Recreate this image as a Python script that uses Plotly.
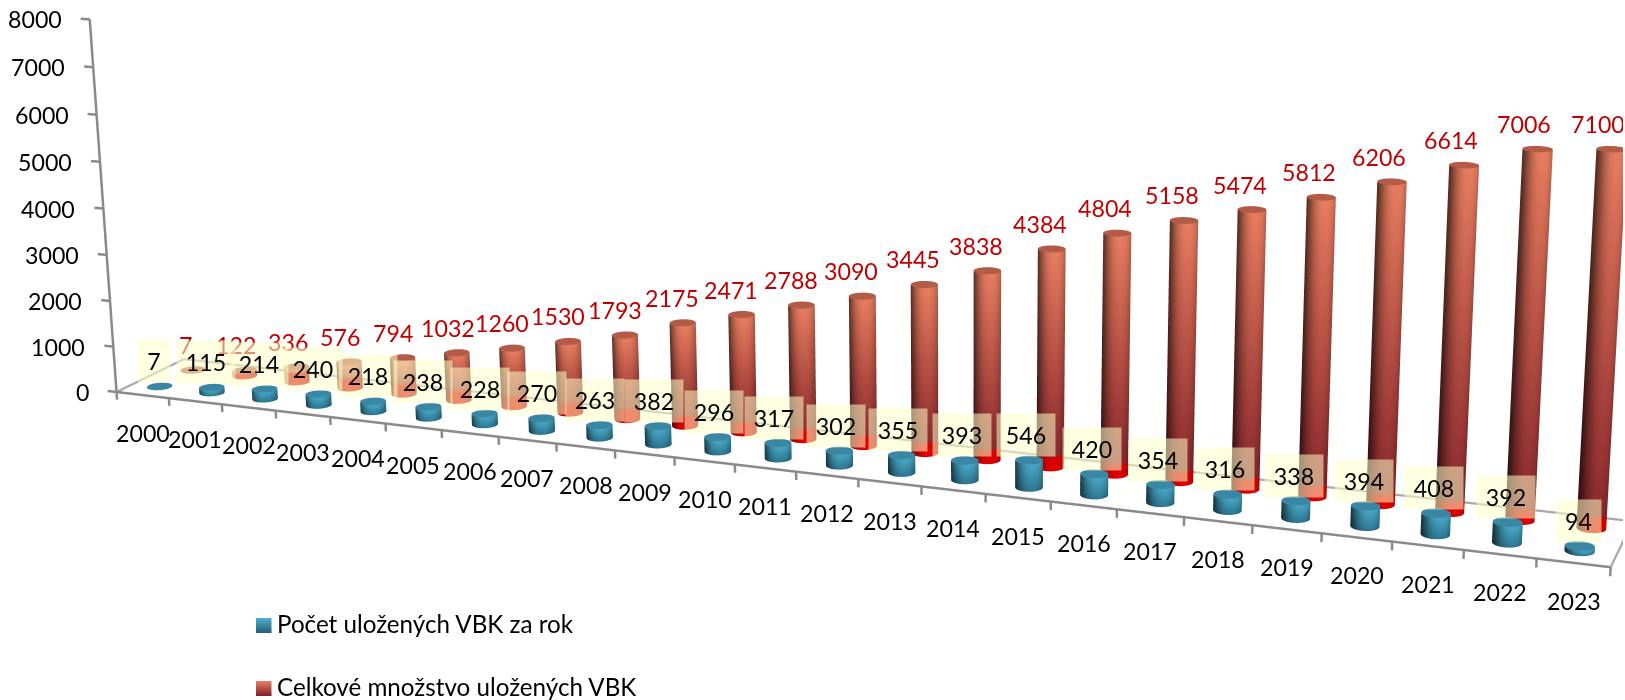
import numpy as np
import plotly.graph_objects as go

years = [str(y) for y in range(2000, 2024)]
per_year = [7,115,214,240,218,238,228,270,263,382,296,317,302,355,393,546,420,354,316,338,394,408,392,94]
total = [7,122,336,576,794,1032,1260,1530,1793,2175,2471,2788,3090,3445,3838,4384,4804,5158,5474,5812,6206,6614,7006,7100]
z_ticks = [0,1000,2000,3000,4000,5000,6000,7000,8000]
name_blue = "Počet uložených VBK za rok"
name_red = "Celkové množstvo uložených VBK"
FONT = "Lato"
DIGIT = 23.2
TEXT = 24.2

YAW, PITCH, ROLL = 0.388961, 0.266854, 0.01276
TX, TY, TZ = -1.36181, -0.19595, 6.35812
KX, KY, KZ = 0.12, 0.240837, 9.25106e-5
FIG_W, FIG_H, TOP_CROP = 1623, 2688, 1052
XR, YR, ZR = (-1.0, 25.0), (-0.3, 1.3), (-400.0, 8400.0)

def rot(v):
    x0, y0, z0 = v
    x = x0*np.cos(YAW) + y0*np.sin(YAW); yr = -x0*np.sin(YAW) + y0*np.cos(YAW)
    yc = z0*np.cos(PITCH) + yr*np.sin(PITCH); zc = yr*np.cos(PITCH) - z0*np.sin(PITCH)
    xc = x*np.cos(ROLL) - yc*np.sin(ROLL); yy = x*np.sin(ROLL) + yc*np.cos(ROLL)
    return np.array([xc, yy, zc])

R = np.array([rot(e) for e in np.eye(3)]).T
right, up, fwd = R[0], R[1], R[2]
eye_p = -R.T @ np.array([TX, TY, TZ])
mid = np.array([KX*sum(XR)/2, KY*sum(YR)/2, KZ*sum(ZR)/2])
eye_n = eye_p - mid
center_n = eye_n + fwd*np.linalg.norm(eye_n)

RX = 0.204
RY = RX*KX/KY

def lerp(c0, c1, t):
    return np.array(c0)*(1-t) + np.array(c1)*t

def blue_col(t):
    return lerp((46,118,144), (72,168,198), t)

def red_col(t, z):
    c = lerp((136,38,44), (232,126,96), t**1.1)
    if z <= 240: return np.array((222,0,0.))
    if z < 330: return lerp((222,0,0), c, (z-240)/90)
    return c

def cylinders(xc, yc, values, colfun, cap, levels_extra):
    xs, ys, zs, cols, I, J, K = [], [], [], [], [], [], []
    n = 56
    th = np.linspace(0, 2*np.pi, n, endpoint=False)
    for x0, v in zip(xc, values):
        base = len(xs)
        lv = sorted(set([0.0, float(v)] + [min(e, v*0.7) for e in levels_extra] + list(np.linspace(0, v, 9))))
        for z in lv:
            for a in th:
                xs.append(x0 + RX*np.cos(a)); ys.append(yc + RY*np.sin(a)); zs.append(z)
                s = np.cos(a)*right[0] + np.sin(a)*right[1]
                s = s/np.hypot(right[0], right[1])
                shade = 1 - 0.42*abs(s-0.18)**2.4
                c = colfun(z/v, z)*shade
                cols.append("rgb(%d,%d,%d)" % tuple(np.clip(c, 0, 255)))
        for r in range(len(lv)-1):
            for a in range(n):
                p = base + r*n + a; q = base + r*n + (a+1) % n
                p2 = p + n; q2 = q + n
                I += [p, p]; J += [q, q2]; K += [q2, p2]
        cbase = len(xs)
        xs.append(x0); ys.append(yc); zs.append(float(v)); cols.append("rgb(%d,%d,%d)" % cap)
        for a in th:
            xs.append(x0 + RX*np.cos(a)); ys.append(yc + RY*np.sin(a)); zs.append(float(v))
            cols.append("rgb(%d,%d,%d)" % cap)
        for a in range(n):
            I.append(cbase); J.append(cbase+1+a); K.append(cbase+1+(a+1) % n)
    return xs, ys, zs, cols, I, J, K

pos = [i + 0.5 for i in range(len(years))]
fig = go.Figure()
LIGHT = dict(ambient=1.0, diffuse=0.0, specular=0.0, roughness=1.0, fresnel=0.0)

xs, ys, zs, cols, I, J, K = cylinders(pos, 0.75, total, red_col, (178,92,72), [240, 330])
fig.add_trace(go.Mesh3d(x=xs, y=ys, z=zs, i=I, j=J, k=K, vertexcolor=cols, lighting=LIGHT, name=name_red, hoverinfo="skip"))
xs, ys, zs, cols, I, J, K = cylinders(pos, 0.25, per_year, lambda t, z: blue_col(t), (58,135,165), [])
fig.add_trace(go.Mesh3d(x=xs, y=ys, z=zs, i=I, j=J, k=K, vertexcolor=cols, lighting=LIGHT, name=name_blue, hoverinfo="skip"))

N = len(years)
lx, ly, lz = [], [], []
def seg(a, b):
    lx.extend([a[0], b[0], None]); ly.extend([a[1], b[1], None]); lz.extend([a[2], b[2], None])
seg((0,0,0), (N,0,0)); seg((0,0,0), (0,0,z_ticks[-1]))
for i in range(N+1):
    seg((i,0,0), (i,0,-170))
for z in z_ticks:
    seg((0,0,z), (-0.17,0,z))
fig.add_trace(go.Scatter3d(x=lx, y=ly, z=lz, mode="lines", line=dict(color="#8a8a8a", width=5), hoverinfo="skip"))
px, py, pz = [], [], []
for a, b in [((0,0,0),(0,1,0)), ((0,1,0),(N,1,0)), ((N,0,0),(N,1,0))]:
    px.extend([a[0], b[0], None]); py.extend([a[1], b[1], None]); pz.extend([a[2], b[2], None])
fig.add_trace(go.Scatter3d(x=px, y=py, z=pz, mode="lines", line=dict(color="#a9a9a9", width=4.5), hoverinfo="skip"))

anns = []
for z in z_ticks:
    anns.append(dict(x=0, y=0, z=z, text=str(z), showarrow=False, xanchor="right", yanchor="middle", xshift=-26,
                     font=dict(family=FONT, size=DIGIT, color="#000")))
for i, y in enumerate(years):
    anns.append(dict(x=pos[i], y=0, z=0, text=y, showarrow=False, xanchor="center", yanchor="middle", yshift=-38,
                     font=dict(family=FONT, size=DIGIT, color="#000")))
for i, v in enumerate(total):
    anns.append(dict(x=pos[i], y=0.75, z=v, text=str(v), showarrow=False, xanchor="center", yanchor="middle",
                     xshift=-(8+0.25*i), yshift=25, font=dict(family=FONT, size=DIGIT, color="#c00000")))
for i, v in enumerate(per_year):
    n = len(str(v))
    anns.append(dict(x=pos[i], y=0.25, z=v, text=str(v), showarrow=False, xanchor="center", yanchor="middle",
                     xshift=-(6-0.2*i), yshift=25, width=13*n+17, height=40, bgcolor="rgba(255,255,200,0.55)",
                     font=dict(family=FONT, size=DIGIT, color="#000")))

def py2p(y):
    return 1 - (TOP_CROP + y)/FIG_H
def px2p(x):
    return x/FIG_W

shapes, notes = [], []
for (yc_, name, top, bot) in [(625.5, name_blue, (78,174,204), (36,96,122)), (688.5, name_red, (226,124,96), (130,36,44))]:
    m = 15
    for s in range(m):
        c = lerp(top, bot, s/(m-1))
        shapes.append(dict(type="rect", xref="paper", yref="paper", line=dict(width=0),
                           x0=px2p(256), x1=px2p(271.5),
                           y0=py2p(yc_-7.5+15*s/m), y1=py2p(yc_-7.5+15*(s+1)/m),
                           fillcolor="rgb(%d,%d,%d)" % tuple(c)))
    notes.append(dict(xref="paper", yref="paper", x=px2p(275), y=py2p(yc_-2), text=name, showarrow=False, xanchor="left",
                      yanchor="middle", font=dict(family=FONT, size=TEXT, color="#000")))

hidden = dict(visible=False, showgrid=False, zeroline=False, showline=False, showticklabels=False, showbackground=False, showspikes=False, title="")
fig.update_layout(
    width=FIG_W, height=FIG_H, margin=dict(l=0, r=0, t=0, b=0, pad=0), showlegend=False,
    paper_bgcolor="white", plot_bgcolor="white", font=dict(family=FONT),
    shapes=shapes, annotations=notes,
    scene=dict(
        domain=dict(x=[0,1], y=[0,1]),
        xaxis=dict(hidden, range=list(XR)), yaxis=dict(hidden, range=list(YR)), zaxis=dict(hidden, range=list(ZR)),
        aspectmode="manual",
        aspectratio=dict(x=KX*(XR[1]-XR[0]), y=KY*(YR[1]-YR[0]), z=KZ*(ZR[1]-ZR[0])),
        camera=dict(eye=dict(x=eye_n[0], y=eye_n[1], z=eye_n[2]),
                    center=dict(x=center_n[0], y=center_n[1], z=center_n[2]),
                    up=dict(x=up[0], y=up[1], z=up[2]),
                    projection=dict(type="perspective")),
        annotations=anns, bgcolor="white",
    ),
)
post = ("var gd=document.getElementById('{plot_id}');"
        "document.documentElement.style.overflow='hidden';"
        "document.body.style.margin='0';document.body.style.overflow='hidden';"
        "gd.style.marginTop='-%dpx';" % TOP_CROP)
fig.write_html("out.html", post_script=post, config=dict(displayModeBar=False))
